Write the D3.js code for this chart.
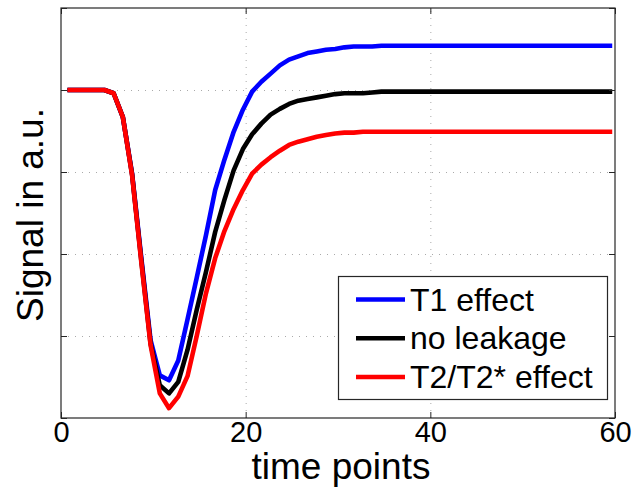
<html>
<head>
  <script src="https://d3js.org/d3.v7.min.js"></script>
  <style>
    body { margin: 0; background: white; }
    text { font-family: "Liberation Sans", Arial, sans-serif; fill: #000; }
    .grid line { stroke: #aaa; stroke-dasharray: 1, 6; }
  </style>
</head>
<body>
  <svg id="chart" width="637" height="492"></svg>
  <script>
    // sample times (regular sampling, first point slightly after 0)
    const timePoints = d3.range(0.7, 60, 1);

    const t1Effect = [4.00, 4.00, 4.00, 4.00, 4.00, 3.96, 3.67, 2.98, 1.95, 0.95,
      0.52, 0.46, 0.70, 1.20, 1.71, 2.23, 2.78, 3.15, 3.49, 3.76,
      3.98, 4.10, 4.20, 4.30, 4.37, 4.41, 4.45, 4.47, 4.49, 4.50,
      4.52, 4.53, 4.53, 4.53, 4.54, 4.54, 4.54, 4.54, 4.54, 4.54,
      4.54, 4.54, 4.54, 4.54, 4.54, 4.54, 4.54, 4.54, 4.54, 4.54,
      4.54, 4.54, 4.54, 4.54, 4.54, 4.54, 4.54, 4.54, 4.54, 4.54];

    const noLeakage = [4.00, 4.00, 4.00, 4.00, 4.00, 3.96, 3.67, 2.97, 1.92, 0.91,
      0.40, 0.30, 0.44, 0.83, 1.32, 1.78, 2.27, 2.66, 3.02, 3.28,
      3.46, 3.59, 3.70, 3.77, 3.83, 3.87, 3.89, 3.91, 3.93, 3.95,
      3.96, 3.96, 3.96, 3.97, 3.98, 3.98, 3.98, 3.98, 3.98, 3.98,
      3.98, 3.98, 3.98, 3.98, 3.98, 3.98, 3.98, 3.98, 3.98, 3.98,
      3.98, 3.98, 3.98, 3.98, 3.98, 3.98, 3.98, 3.98, 3.98, 3.98];

    const t2Effect = [4.00, 4.00, 4.00, 4.00, 4.00, 3.96, 3.67, 2.96, 1.90, 0.89,
      0.30, 0.12, 0.26, 0.51, 1.00, 1.52, 1.95, 2.28, 2.55, 2.78,
      2.98, 3.09, 3.18, 3.26, 3.33, 3.37, 3.40, 3.43, 3.45, 3.47,
      3.48, 3.48, 3.49, 3.49, 3.49, 3.49, 3.49, 3.49, 3.49, 3.49,
      3.49, 3.49, 3.49, 3.49, 3.49, 3.49, 3.49, 3.49, 3.49, 3.49,
      3.49, 3.49, 3.49, 3.49, 3.49, 3.49, 3.49, 3.49, 3.49, 3.49];

    const seriesNames = ["T1 effect", "no leakage", "T2/T2* effect"];
    const seriesColors = ["#0000ff", "#000000", "#ff0000"];
    const xTicks = [0, 20, 40, 60];
    const yTicks = [0, 1, 2, 3, 4, 5];

    const svg = d3.select("#chart");
    const plot = { left: 61, right: 615, top: 8, bottom: 418 };

    const x = d3.scaleLinear().domain([0, 60]).range([plot.left, plot.right]);
    const y = d3.scaleLinear().domain([0, 5]).range([plot.bottom, plot.top]);

    // gridlines
    svg.append("g").attr("class", "grid")
      .attr("transform", `translate(0,${plot.bottom})`)
      .call(d3.axisBottom(x).tickValues(xTicks.slice(1, -1)).tickSize(-(plot.bottom - plot.top)).tickFormat(""))
      .call(g => g.select(".domain").remove());
    svg.append("g").attr("class", "grid")
      .attr("transform", `translate(${plot.left},0)`)
      .call(d3.axisLeft(y).tickValues(yTicks.slice(1, -1)).tickSize(-(plot.right - plot.left)).tickFormat(""))
      .call(g => g.select(".domain").remove());

    // curves
    const allSeries = [t1Effect, noLeakage, t2Effect];
    const line = d3.line()
      .x((d, i) => x(timePoints[i]))
      .y(d => y(d));
    allSeries.forEach((s, i) => {
      svg.append("path")
        .datum(s)
        .attr("d", line)
        .attr("fill", "none")
        .attr("stroke", seriesColors[i])
        .attr("stroke-width", 4.6)
        .attr("stroke-linejoin", "round");
    });

    // axes box with inward ticks
    const axisColor = "#262626";
    const bottomAxis = d3.axisBottom(x).tickValues(xTicks).tickSize(-6).tickPadding(3).tickFormat(d3.format("d"));
    svg.append("g").attr("transform", `translate(0,${plot.bottom})`).call(bottomAxis)
      .call(g => {
        g.select(".domain").remove();
        g.selectAll("line").attr("stroke", axisColor);
        g.selectAll("text").attr("font-size", 29).attr("font-family", "Liberation Sans, Arial, sans-serif").attr("fill", "#000");
      });
    svg.append("g").attr("transform", `translate(0,${plot.top})`)
      .call(d3.axisTop(x).tickValues(xTicks).tickSize(-6).tickFormat(""))
      .call(g => { g.select(".domain").remove(); g.selectAll("line").attr("stroke", axisColor); });
    svg.append("g").attr("transform", `translate(${plot.left},0)`)
      .call(d3.axisLeft(y).tickValues(yTicks).tickSize(-6).tickFormat(""))
      .call(g => { g.select(".domain").remove(); g.selectAll("line").attr("stroke", axisColor); });
    svg.append("g").attr("transform", `translate(${plot.right},0)`)
      .call(d3.axisRight(y).tickValues(yTicks).tickSize(-6).tickFormat(""))
      .call(g => { g.select(".domain").remove(); g.selectAll("line").attr("stroke", axisColor); });

    svg.append("rect")
      .attr("x", plot.left).attr("y", plot.top)
      .attr("width", plot.right - plot.left).attr("height", plot.bottom - plot.top)
      .attr("fill", "none").attr("stroke", axisColor).attr("stroke-width", 1.2);

    // axis labels
    svg.append("text")
      .attr("x", (plot.left + plot.right) / 2 + 3).attr("y", 479)
      .attr("text-anchor", "middle").attr("font-size", 37)
      .text("time points");
    svg.append("text")
      .attr("transform", `translate(43,${(plot.top + plot.bottom) / 2 + 2}) rotate(-90)`)
      .attr("text-anchor", "middle").attr("font-size", 37)
      .text("Signal in a.u.");

    // legend
    const legend = svg.append("g");
    legend.append("rect")
      .attr("x", 338.5).attr("y", 276.5)
      .attr("width", 269).attr("height", 123)
      .attr("fill", "white").attr("stroke", axisColor).attr("stroke-width", 1.2);
    seriesNames.forEach((name, i) => {
      const ly = 299.5 + i * 38.7;
      legend.append("line")
        .attr("x1", 356).attr("x2", 405)
        .attr("y1", ly).attr("y2", ly)
        .attr("stroke", seriesColors[i]).attr("stroke-width", 4.5);
      legend.append("text")
        .attr("x", 410).attr("y", ly + 11)
        .attr("font-size", 32)
        .text(name);
    });
  </script>
</body>
</html>
